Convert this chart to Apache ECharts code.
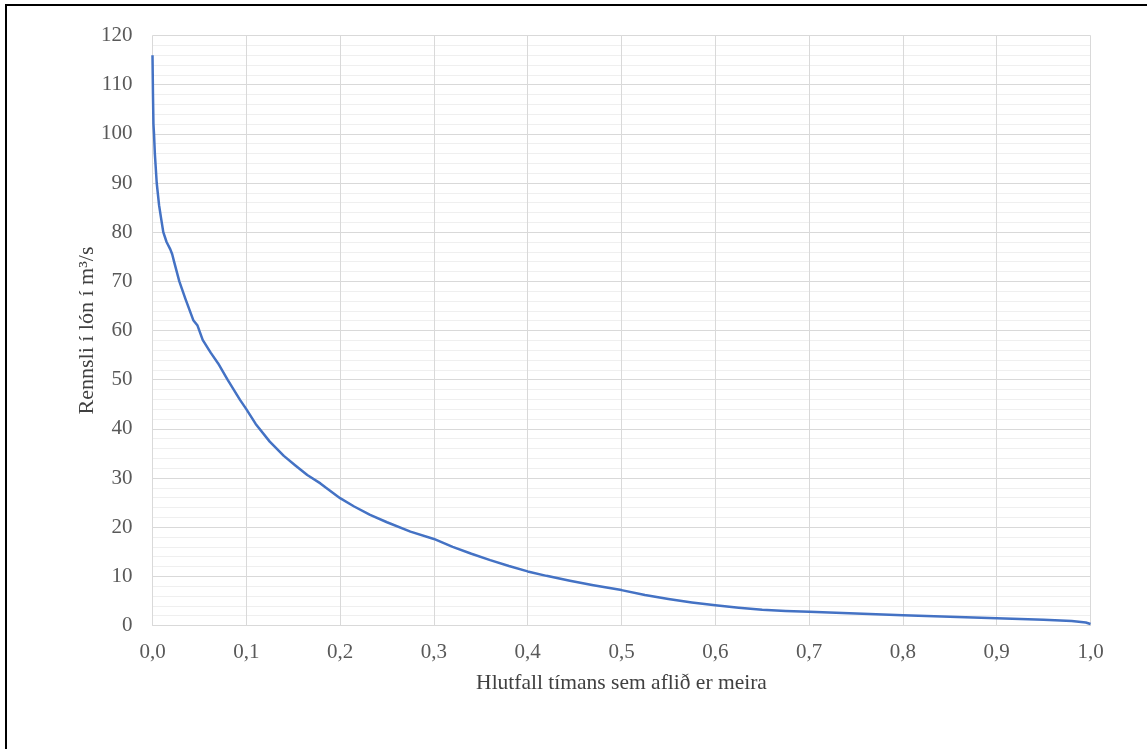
<!DOCTYPE html>
<html>
<head>
<meta charset="utf-8">
<script src="https://cdn.jsdelivr.net/npm/echarts@6/dist/echarts.min.js"></script>
<style>
html,body{margin:0;padding:0;background:#fff;}
#chart{width:1147px;height:749px;}
</style>
</head>
<body>
<div id="chart"></div>
<script>
// Fraction of time (x) and inflow to reservoir in m3/s (y)
const timeFraction = [0.0000,0.0005,0.0010,0.0016,0.0025,0.0045,0.0070,0.0090,0.0115,0.0150,0.0190,0.0210,0.0230,0.0286,0.0350,0.0435,0.0480,0.0535,0.0620,0.0700,0.0800,0.0933,0.1000,0.1100,0.1250,0.1400,0.1520,0.1650,0.1790,0.1850,0.2000,0.2150,0.2320,0.2500,0.2750,0.3000,0.3200,0.3400,0.3600,0.3800,0.4000,0.4200,0.4450,0.4700,0.5000,0.5250,0.5500,0.5750,0.6000,0.6250,0.6500,0.6750,0.7000,0.7500,0.8000,0.8500,0.9000,0.9500,0.9800,0.9950,1.0000];
const inflow = [116.0,108.0,102.0,100.0,96.0,90.0,85.5,83.0,80.0,78.0,76.5,75.5,74.0,70.0,66.5,62.1,61.0,58.1,55.5,53.3,50.0,45.9,44.0,41.0,37.4,34.5,32.6,30.6,28.9,28.0,25.9,24.2,22.5,21.0,19.1,17.6,16.0,14.6,13.3,12.1,11.0,10.1,9.1,8.2,7.2,6.2,5.4,4.7,4.1,3.6,3.2,2.95,2.8,2.45,2.1,1.8,1.45,1.15,0.9,0.6,0.3];
const xAxisTitle = 'Hlutfall tímans sem aflið er meira';
const yAxisTitle = 'Rennsli í lón í m³/s';

const points = timeFraction.map((t, i) => [t, inflow[i]]);
const serif = "'Liberation Serif','Times New Roman',serif";

const chart = echarts.init(document.getElementById('chart'), null, {renderer: 'canvas'});
chart.setOption({
  animation: false,
  backgroundColor: '#ffffff',
  grid: {left: 152.5, right: 56.5, top: 35.5, bottom: 123.5, containLabel: false},
  xAxis: {
    type: 'value', min: 0, max: 1, interval: 0.1,
    name: xAxisTitle, nameLocation: 'middle', nameGap: 47,
    nameTextStyle: {fontFamily: serif, fontSize: 21.5, color: '#404040'},
    axisLine: {show: true, lineStyle: {color: '#d9d9d9', width: 1}},
    axisTick: {show: false},
    axisLabel: {fontFamily: serif, fontSize: 21, color: '#595959', margin: 16,
      formatter: v => v.toFixed(1).replace('.', ',')},
    splitLine: {show: true, lineStyle: {color: '#d9d9d9', width: 1}}
  },
  yAxis: {
    type: 'value', min: 0, max: 120, interval: 10,
    name: yAxisTitle, nameLocation: 'middle', nameGap: 54, nameMoveOverlap: false,
    nameTextStyle: {fontFamily: serif, fontSize: 22, color: '#404040'},
    axisLine: {show: false},
    axisTick: {show: false},
    minorTick: {show: false, splitNumber: 5},
    minorSplitLine: {show: true, lineStyle: {color: '#efefef', width: 1}},
    axisLabel: {fontFamily: serif, fontSize: 21, color: '#595959', margin: 20},
    splitLine: {show: true, lineStyle: {color: '#d9d9d9', width: 1}}
  },
  series: [{
    type: 'line', data: points, showSymbol: false, smooth: false,
    lineStyle: {color: '#4472c4', width: 2.5, join: 'round'}, z: 5
  }],
  graphic: [
    {type: 'rect', shape: {x: 5, y: 4, width: 1142, height: 2}, style: {fill: '#000'}},
    {type: 'rect', shape: {x: 5, y: 4, width: 2, height: 745}, style: {fill: '#000'}}
  ]
});
</script>
</body>
</html>
